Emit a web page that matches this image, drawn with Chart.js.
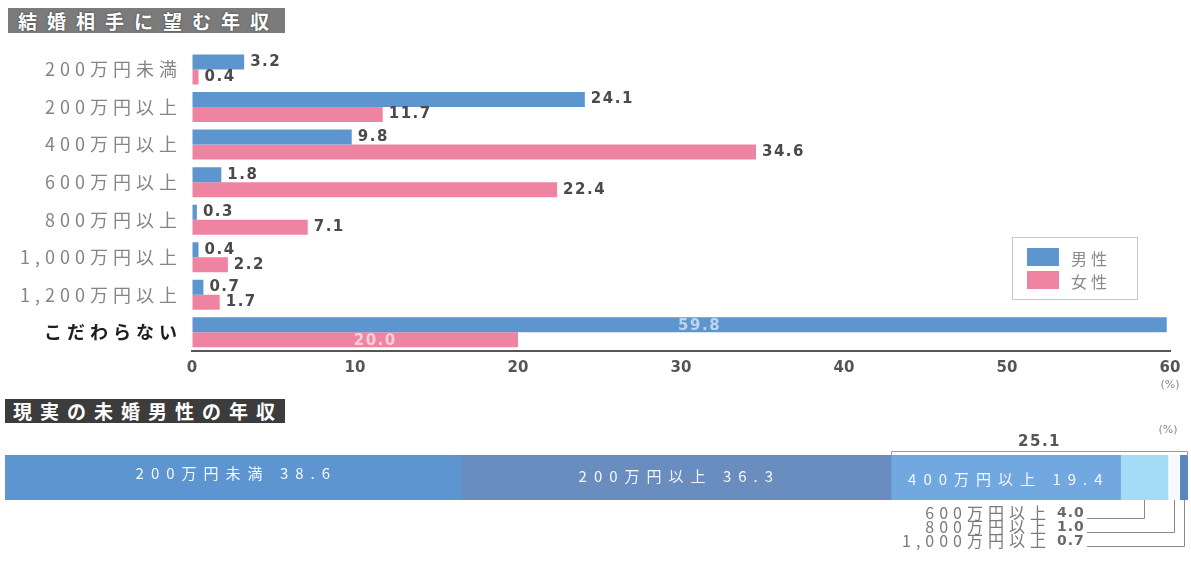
<!DOCTYPE html>
<html lang="ja">
<head>
<meta charset="utf-8">
<title>結婚相手に望む年収</title>
<script src="https://cdn.jsdelivr.net/npm/chart.js@4.4.1/dist/chart.umd.min.js"></script>
<style>
  html, body { margin: 0; padding: 0; background: #fff; }
  body { position: relative; width: 1191px; height: 562px; overflow: hidden; font-family: "Noto Sans CJK JP", sans-serif; }
  canvas { position: absolute; left: 0; }
  #wishChart { top: 38px; }
  #realChart { top: 420px; }
  .title { position: absolute; color: #fff; font-weight: bold; font-size: 19px; line-height: 25px; white-space: nowrap; }
  #wishTitle { left: 8px; top: 8px; width: 267px; height: 25px; padding-left: 10px; background: #7b7b7b; letter-spacing: 10px; text-shadow: 0 0 2px #333; }
  #realTitle { left: 5px; top: 399px; width: 272px; height: 24px; padding-left: 8px; background: #3c3c3c; letter-spacing: 8px; line-height: 24px; }
  #legend { position: absolute; left: 1012px; top: 237px; width: 124px; height: 61px; border: 1px solid #c8c8c8; }
  .legend-item { position: absolute; left: 14px; height: 18px; }
  .legend-item span.swatch { position: absolute; left: 0; top: 0; width: 32px; height: 18px; }
  .legend-item span.text { position: absolute; left: 44px; top: -2px; font-size: 16px; color: #8a8a8a; letter-spacing: 4px; white-space: nowrap; }
</style>
</head>
<body>
<div id="wishTitle" class="title">結婚相手に望む年収</div>
<canvas id="wishChart" width="1191" height="357"></canvas>
<div id="legend"></div>
<div id="realTitle" class="title">現実の未婚男性の年収</div>
<canvas id="realChart" width="1191" height="142"></canvas>

<script>
// 結婚相手に望む年収 (%)
var categories = ['200万円未満', '200万円以上', '400万円以上', '600万円以上', '800万円以上', '1,000万円以上', '1,200万円以上', 'こだわらない'];
var maleValues = [3.2, 24.1, 9.8, 1.8, 0.3, 0.4, 0.7, 59.8];
var femaleValues = [0.4, 11.7, 34.6, 22.4, 7.1, 2.2, 1.7, 20.0];
var seriesNames = ['男性', '女性'];
var xTicks = [0, 10, 20, 30, 40, 50, 60];

// 現実の未婚男性の年収 (%)
var incomeBands = ['200万円未満', '200万円以上', '400万円以上', '600万円以上', '800万円以上', '1,000万円以上'];
var incomeShares = [38.6, 36.3, 19.4, 4.0, 1.0, 0.7];

var BLUE = '#5d95cf';
var PINK = '#ee84a1';
var bandColors = ['#5c95cf', '#6a8dc0', '#70a8df', '#a4dcf6', '#f6fafc', '#5a86bf'];
var JP_FONT = '"Noto Sans CJK JP", sans-serif';

// the "こだわらない" row carries its numbers inside the bars
var openRow = categories.indexOf('こだわらない');

// spread the category labels out a bit (the canvas has letterSpacing, Chart.js does not)
var spacedTicks = {
    id: 'spacedTicks',
    afterLayout: function(chart, args, opts) {
        var scale = chart.scales.y;
        if (!scale || scale._spaced) return;
        var draw = scale.drawLabels.bind(scale);
        scale.drawLabels = function(area) {
            var ctx = chart.ctx;
            var prev = ctx.letterSpacing;
            ctx.letterSpacing = opts.spacing;
            draw(area);
            ctx.letterSpacing = prev;
        };
        scale._spaced = true;
    }
};

var valueLabels = {
    id: 'valueLabels',
    afterDatasetsDraw: function(chart) {
        var ctx = chart.ctx;
        ctx.save();
        ctx.font = 'bold 15px "DejaVu Sans"';
        ctx.letterSpacing = '1.5px';
        ctx.textBaseline = 'middle';
        chart.data.datasets.forEach(function(ds, di) {
            chart.getDatasetMeta(di).data.forEach(function(bar, i) {
                var text = ds.data[i].toFixed(1);
                if (i === openRow) {
                    ctx.fillStyle = 'rgba(255,255,255,0.6)';
                    ctx.textAlign = 'center';
                    ctx.fillText(text, (bar.x + bar.base) / 2 + 20, bar.y + 1);
                } else {
                    ctx.fillStyle = '#4a4a4a';
                    ctx.textAlign = 'left';
                    ctx.fillText(text, bar.x + 6, bar.y);
                }
            });
        });
        // unit under the last tick
        var x = chart.scales.x;
        ctx.font = '11px "DejaVu Sans"';
        ctx.letterSpacing = '0px';
        ctx.fillStyle = '#8a8a8a';
        ctx.textAlign = 'center';
        ctx.fillText('(%)', x.getPixelForValue(xTicks[xTicks.length - 1]), x.bottom - 10);
        ctx.restore();
    }
};

var wishChart = new Chart(document.getElementById('wishChart'), {
    type: 'bar',
    data: {
        labels: categories,
        datasets: [
            { label: seriesNames[0], data: maleValues, backgroundColor: BLUE },
            { label: seriesNames[1], data: femaleValues, backgroundColor: PINK }
        ]
    },
    options: {
        indexAxis: 'y',
        responsive: false,
        animation: false,
        devicePixelRatio: 1,
        categoryPercentage: 0.8,
        barPercentage: 1.0,
        layout: { padding: { top: 0, right: 21, left: 0, bottom: 0 } },
        plugins: {
            legend: { display: false },
            tooltip: { enabled: false },
            spacedTicks: { spacing: '5px' }
        },
        scales: {
            x: {
                min: 0,
                max: 60,
                afterBuildTicks: function(scale) {
                    scale.ticks = xTicks.map(function(v) { return { value: v }; });
                },
                afterFit: function(scale) { scale.height = 44; },
                grid: { display: true, drawOnChartArea: false, drawTicks: false },
                border: { display: true, color: '#555', width: 2 },
                ticks: {
                    padding: 8,
                    color: '#555',
                    font: { family: 'DejaVu Sans', size: 15, weight: 'bold' }
                }
            },
            y: {
                afterFit: function(scale) { scale.width = 192; },
                grid: { display: false },
                border: { display: false },
                ticks: {
                    padding: 2,
                    color: function(c) { return c.index === openRow ? '#1e1e1e' : '#858585'; },
                    font: function(c) {
                        return { family: JP_FONT, size: 18, weight: c.index === openRow ? 'bold' : 'normal' };
                    }
                }
            }
        }
    },
    plugins: [spacedTicks, valueLabels]
});

// legend box
var legendBox = document.getElementById('legend');
wishChart.data.datasets.forEach(function(ds, i) {
    var item = document.createElement('div');
    item.className = 'legend-item';
    item.style.top = (10 + i * 23) + 'px';
    var sw = document.createElement('span');
    sw.className = 'swatch';
    sw.style.background = ds.backgroundColor;
    var tx = document.createElement('span');
    tx.className = 'text';
    tx.textContent = ds.label;
    item.appendChild(sw);
    item.appendChild(tx);
    legendBox.appendChild(item);
});

// names inside the bar, bracket over the top bands, leaders for the thin ones
var bandLabels = {
    id: 'bandLabels',
    afterDatasetsDraw: function(chart) {
        var ctx = chart.ctx;
        var bars = chart.data.datasets.map(function(ds, i) { return chart.getDatasetMeta(i).data[0]; });
        var top = chart.chartArea.top;
        var bottom = chart.chartArea.bottom;
        ctx.save();
        ctx.textBaseline = 'middle';

        // inside labels for the three wide bands
        ctx.font = '15px ' + JP_FONT;
        ctx.letterSpacing = '7px';
        ctx.fillStyle = 'rgba(255,255,255,0.92)';
        ctx.textAlign = 'center';
        for (var i = 0; i < 3; i++) {
            var b = bars[i];
            ctx.fillText(incomeBands[i] + ' ' + incomeShares[i].toFixed(1), (b.x + b.base) / 2 + 3, (top + bottom) / 2 - 4 + i * 3);
        }

        // bracket for 400万円以上 and above
        var from = bars[2].base;
        var to = bars[bars.length - 1].x;
        var upper = incomeShares.slice(2).reduce(function(a, v) { return a + v; }, 0);
        ctx.strokeStyle = '#9a9a9a';
        ctx.lineWidth = 1;
        ctx.beginPath();
        ctx.moveTo(from + 0.5, top + 1);
        ctx.lineTo(from + 0.5, top - 3.5);
        ctx.lineTo(to - 0.5, top - 3.5);
        ctx.lineTo(to - 0.5, top + 1);
        ctx.stroke();
        ctx.font = 'bold 15px "DejaVu Sans"';
        ctx.letterSpacing = '1.5px';
        ctx.fillStyle = '#555';
        ctx.fillText(upper.toFixed(1), (from + to) / 2, top - 13);
        ctx.font = '11px "DejaVu Sans"';
        ctx.letterSpacing = '0px';
        ctx.fillStyle = '#8a8a8a';
        ctx.fillText('(%)', to - 20, top - 25);

        // leaders for the three thin bands
        for (var j = 3; j < bars.length; j++) {
            var row = bottom + 13 + (j - 3) * 14;
            var bx = (bars[j].x + bars[j].base) / 2;
            ctx.font = '16px ' + JP_FONT;
            ctx.letterSpacing = '5px';
            ctx.fillStyle = '#7a7a7a';
            ctx.textAlign = 'right';
            ctx.fillText(incomeBands[j], 1051, row);
            ctx.font = 'bold 14px "DejaVu Sans"';
            ctx.letterSpacing = '1px';
            ctx.fillStyle = '#6a6a6a';
            ctx.textAlign = 'left';
            ctx.fillText(incomeShares[j].toFixed(1), 1057, row);
            ctx.strokeStyle = '#8a8a8a';
            ctx.beginPath();
            ctx.moveTo(1087, row + 5.5);
            ctx.lineTo(Math.round(bx) + 0.5, row + 5.5);
            ctx.lineTo(Math.round(bx) + 0.5, bottom);
            ctx.stroke();
        }
        ctx.restore();
    }
};

new Chart(document.getElementById('realChart'), {
    type: 'bar',
    data: {
        labels: ['現実'],
        datasets: incomeBands.map(function(name, i) {
            return { label: name, data: [incomeShares[i]], backgroundColor: bandColors[i] };
        })
    },
    options: {
        indexAxis: 'y',
        responsive: false,
        animation: false,
        devicePixelRatio: 1,
        categoryPercentage: 1.0,
        barPercentage: 1.0,
        layout: { padding: { top: 35, right: 3, left: 5, bottom: 62 } },
        plugins: {
            legend: { display: false },
            tooltip: { enabled: false }
        },
        scales: {
            x: { display: false, stacked: true, min: 0, max: 100 },
            y: { display: false, stacked: true }
        }
    },
    plugins: [bandLabels]
});
</script>
</body>
</html>
